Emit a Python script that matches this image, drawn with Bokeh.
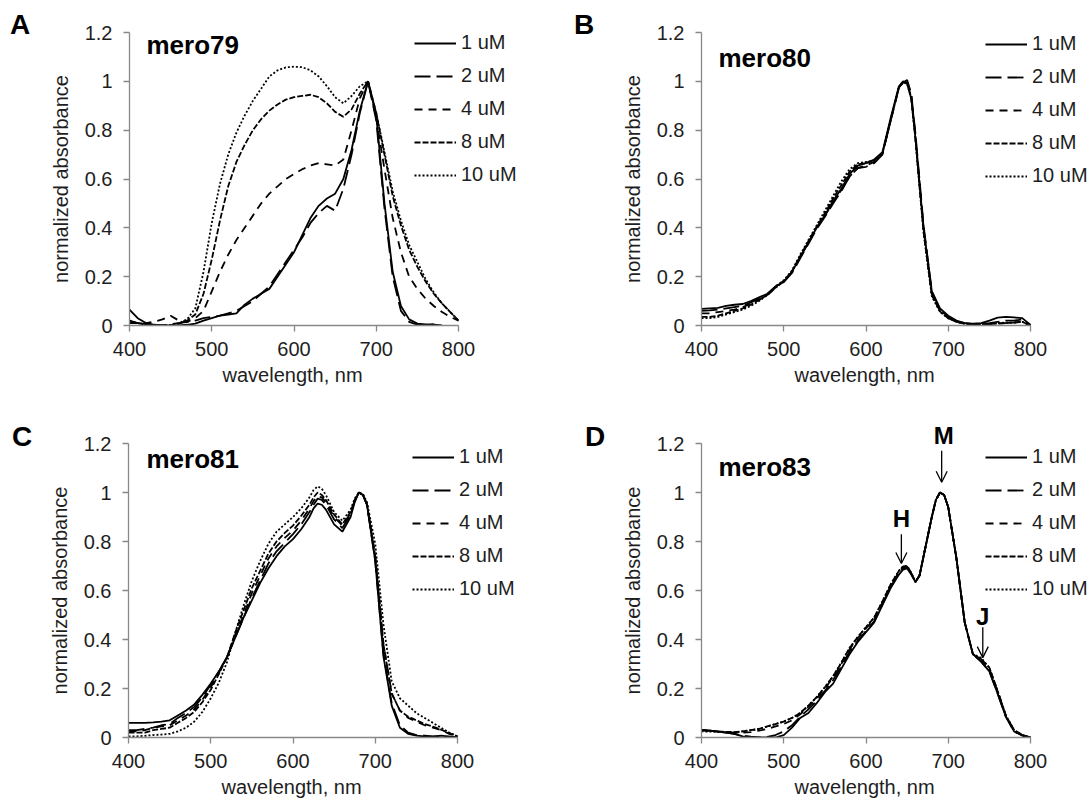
from bokeh.plotting import figure
from bokeh.models import Range1d, FixedTicker, Legend, LegendItem, Label, Arrow, OpenHead, Title, Div
from bokeh.layouts import column, row
from bokeh.embed import file_html
from bokeh.resources import INLINE

nan = float("nan")

concentrations = ["1 uM", "2 uM", "4 uM", "8 uM", "10 uM"]
x_ticks = [400, 500, 600, 700, 800]
y_ticks = [0, 0.2, 0.4, 0.6, 0.8, 1.0, 1.2]
y_tick_labels = ["0", "0.2", "0.4", "0.6", "0.8", "1", "1.2"]
x_label = "wavelength, nm"
y_label = "normalized absorbance"
panel_letters = ["A", "B", "C", "D"]
panel_titles = ["mero79", "mero80", "mero81", "mero83"]

# ---- mero79 ----
wl_79 = [400, 410, 420, 430, 440, 450, 460, 470, 480, 490, 500, 510, 520, 530, 540, 550, 560, 570, 580, 590,
         600, 610, 620, 630, 640, 650, 660, 670, 680, 690, 700, 710, 720, 730, 740, 750, 760, 770, 780, 790, 800]
m79_1 = [.065, .03, .01, .003, 0, 0, 0, .003, .008, .02, .03, .04, .045, .05, .085, .11, .13, .15, .2, .25,
         .3, .37, .44, .49, .52, .54, .6, .72, .88, 1.0, .86, .5, .22, .08, .025, .008, .005, .004, 0, nan, nan]
m79_2 = [.02, .01, .005, .002, 0, .005, .01, .015, .02, .03, .035, .04, .05, .06, .08, .1, .13, .16, .21, .26,
         .31, .36, .42, .46, .49, .47, .56, .7, .87, 1.0, .84, .48, .2, .06, .015, .003, 0, .005, nan, nan, nan]
m79_4 = [.01, .01, .01, .015, .025, .04, .02, .015, .03, .06, .14, .22, .29, .35, .4, .45, .5, .54, .57, .6,
         .62, .64, .655, .665, .66, .655, .68, .8, .93, 1.0, .85, .64, .44, .3, .2, .15, .11, .08, .055, .035, .02]
m79_8 = [.015, .01, .005, .002, 0, .002, .008, .02, .045, .13, .27, .43, .57, .67, .74, .8, .845, .88, .905, .925,
         .935, .94, .945, .935, .91, .875, .855, .885, .95, 1.0, .87, .7, .53, .41, .31, .24, .18, .13, .09, .055, .02]
m79_10 = [.02, .01, .005, .002, 0, .002, .01, .025, .07, .22, .42, .58, .7, .79, .86, .92, .97, 1.02, 1.045, 1.057,
          1.06, 1.058, 1.045, 1.02, .98, .935, .91, .94, .98, 1.0, .87, .71, .55, .43, .33, .26, .19, .135, .09, .055, .02]

# ---- mero80 ----
wl_80 = [400, 410, 420, 430, 440, 450, 460, 470, 480, 490, 500, 510, 520, 530, 540, 550, 560, 570, 580, 590,
         600, 610, 620, 630, 640, 645, 650, 655, 660, 665, 670, 680, 690, 700, 710, 720, 730, 740, 750, 760,
         770, 780, 790, 800]
m80_1 = [.068, .07, .072, .08, .085, .088, .1, .115, .13, .16, .18, .22, .28, .34, .4, .45, .51, .56, .62, .655,
         .665, .68, .71, .85, .98, 1.0, .99, .93, .77, .58, .4, .14, .07, .04, .02, .01, .008, .01, .02, .032,
         .035, .033, .03, .002]
m80_2 = [.06, .062, .065, .07, .075, .08, .095, .11, .125, .155, .178, .215, .275, .335, .395, .445, .5, .55, .61, .645,
         .65, .665, .7, .84, .975, .995, 1.005, .95, .79, .6, .41, .14, .065, .035, .018, .01, .006, .006, .01, .015,
         .02, .02, .025, .002]
m80_4 = [.05, .05, .055, .06, .065, .075, .09, .105, .125, .155, .18, .22, .28, .34, .4, .45, .505, .555, .61, .645,
         .655, .67, .705, .84, .975, .995, 1.0, .945, .78, .59, .4, .13, .06, .03, .015, .008, .005, .005, .006, .008,
         .01, .012, .015, 0]
m80_8 = [.035, .035, .04, .05, .06, .07, .085, .105, .125, .16, .182, .222, .285, .345, .405, .46, .52, .575, .63, .66,
         .665, .675, .705, .84, .975, .995, .995, .935, .77, .575, .385, .125, .058, .03, .015, .008, .005, .005, .006, .008,
         .01, .012, .015, 0]
m80_10 = [.03, .03, .035, .045, .055, .065, .08, .1, .125, .16, .185, .225, .29, .35, .41, .47, .53, .59, .64, .665,
          .67, .675, .705, .84, .975, .995, .99, .93, .77, .57, .38, .12, .055, .03, .015, .008, .005, .005, .008, .01,
          .012, .012, .015, 0]

# ---- mero81 ----
wl_81 = [400, 410, 420, 430, 440, 450, 460, 470, 480, 490, 500, 510, 520, 530, 540, 550, 560, 570, 580, 590,
         600, 610, 620, 625, 630, 635, 640, 650, 660, 670, 675, 680, 685, 690, 700, 710, 720, 730, 740, 750,
         760, 770, 780, 790, 800]
m81_1 = [.06, .06, .06, .062, .065, .07, .09, .11, .135, .175, .22, .27, .33, .41, .49, .56, .63, .69, .74, .78,
         .81, .85, .9, .935, .955, .95, .93, .87, .84, .9, .96, 1.0, .99, .95, .72, .33, .13, .04, .015, .008,
         .005, .003, .008, .004, 0]
m81_2 = [.03, .03, .035, .04, .05, .055, .08, .1, .125, .165, .215, .27, .33, .41, .49, .57, .64, .71, .76, .795,
         .83, .87, .92, .95, .975, .97, .95, .89, .855, .91, .965, 1.0, .99, .95, .72, .34, .14, .05, .02, .01,
         .008, .005, .004, .003, 0]
m81_4 = [.025, .025, .03, .04, .045, .05, .07, .09, .115, .155, .205, .265, .33, .42, .5, .59, .66, .73, .78, .815,
         .845, .885, .935, .965, .985, .98, .96, .9, .865, .915, .965, 1.0, .99, .95, .74, .38, .18, .11, .08, .065,
         .05, .04, .03, .015, .003]
m81_8 = [.02, .02, .02, .03, .035, .04, .06, .08, .105, .145, .195, .26, .33, .43, .52, .61, .68, .75, .8, .835,
         .865, .905, .95, .98, 1.0, .99, .97, .91, .87, .92, .97, 1.0, .99, .95, .74, .38, .18, .11, .085, .07,
         .055, .045, .032, .018, .004]
m81_10 = [.005, .005, .007, .01, .012, .015, .025, .04, .065, .105, .16, .225, .31, .43, .54, .64, .72, .79, .84, .87,
          .9, .935, .98, 1.01, 1.025, 1.015, .99, .92, .885, .93, .975, 1.0, .995, .96, .79, .46, .23, .16, .13, .1,
          .08, .06, .04, .02, .005]

# ---- mero83 ----
wl_83 = [400, 410, 420, 430, 440, 450, 460, 470, 480, 490, 500, 510, 520, 530, 540, 550, 560, 570, 580, 590,
         600, 610, 620, 630, 640, 645, 650, 655, 660, 665, 670, 680, 685, 690, 695, 700, 710, 720, 730, 740,
         750, 760, 770, 780, 790, 800]
m83_1 = [.03, .028, .025, .02, .015, .005, 0, 0, 0, 0, .01, .04, .08, .1, .14, .185, .22, .28, .34, .39,
         .43, .47, .54, .61, .665, .685, .69, .665, .635, .66, .74, .9, .97, 1.0, .99, .94, .73, .47, .34, .31,
         .27, .18, .085, .025, .008, 0]
m83_2 = [.03, .028, .024, .02, .015, .008, .003, 0, .003, .01, .025, .05, .085, .115, .15, .19, .235, .29, .35, .395,
         .435, .475, .545, .615, .67, .69, .695, .67, .635, .66, .74, .9, .97, 1.0, .99, .94, .73, .47, .34, .31,
         .27, .18, .085, .025, .008, 0]
m83_4 = [.03, .027, .024, .022, .02, .02, .022, .028, .035, .045, .055, .07, .095, .125, .16, .2, .245, .3, .36, .405,
         .445, .485, .55, .62, .675, .695, .698, .67, .635, .66, .74, .9, .97, 1.0, .99, .94, .73, .47, .34, .32,
         .28, .19, .09, .03, .01, 0]
m83_8 = [.03, .028, .025, .023, .022, .025, .03, .035, .045, .055, .065, .08, .1, .13, .165, .205, .25, .305, .365, .41,
         .45, .49, .555, .625, .68, .698, .7, .672, .635, .66, .74, .9, .97, 1.0, .99, .94, .73, .47, .34, .32,
         .285, .19, .09, .03, .01, 0]
m83_10 = [.025, .024, .022, .021, .02, .025, .03, .035, .045, .055, .065, .08, .1, .13, .165, .205, .25, .305, .365, .41,
          .45, .49, .555, .625, .68, .698, .7, .672, .635, .66, .74, .9, .97, 1.0, .99, .94, .73, .47, .34, .325,
          .285, .19, .09, .03, .01, 0]

# peak annotations in panel D (H and J inside the plot, M just above it)
peak_labels = ["H", "M", "J"]
peak_wl = [643, 692, 742]
peak_label_y = [0.892, 1.2, 0.495]
peak_arrow_from = [0.83, 1.17, 0.45]
peak_arrow_to = [0.71, 1.042, 0.326]

FONT = "Liberation Sans"
AXIS_GRAY = "#888888"
TEXT_COLOR = "#1e1e1e"
dashes = ["solid", "16 6", "8 6", "6 2", "2 2"]
PX_PER_NM = 329 / 400.0


def make_panel(wl, series, width, height, left, top, bottom, legend_loc, title, title_pos):
    frame_w = width - left
    x_end = 400 + frame_w / PX_PER_NM
    p = figure(width=width, height=height, x_range=Range1d(400, x_end), y_range=Range1d(0, 1.2),
               output_backend="svg", toolbar_location=None, tools="", title=None,
               min_border_left=left, min_border_right=0, min_border_top=top, min_border_bottom=bottom)
    p.outline_line_color = None
    p.xgrid.visible = False
    p.ygrid.visible = False
    p.background_fill_color = "white"
    p.border_fill_color = "white"

    for ax in (p.xaxis[0], p.yaxis[0]):
        ax.axis_line_color = AXIS_GRAY
        ax.axis_line_width = 1.3
        ax.major_tick_line_color = AXIS_GRAY
        ax.major_tick_line_width = 1.3
        ax.minor_tick_line_color = None
        ax.major_tick_in = 0
        ax.major_tick_out = 6
        ax.major_label_text_font = FONT
        ax.major_label_text_font_size = "20px"
        ax.major_label_text_color = TEXT_COLOR
        ax.axis_label_text_font = FONT
        ax.axis_label_text_font_size = "20px"
        ax.axis_label_text_font_style = "normal"
        ax.axis_label_text_color = TEXT_COLOR

    p.xaxis.bounds = (400, 800)
    p.xaxis.ticker = FixedTicker(ticks=x_ticks)
    p.yaxis.ticker = FixedTicker(ticks=y_ticks)
    p.yaxis.major_label_overrides = {float(t): s for t, s in zip(y_ticks, y_tick_labels)}
    p.yaxis.axis_label = y_label
    p.xaxis.major_label_standoff = 10
    p.yaxis.major_label_standoff = 11
    p.yaxis.axis_label_standoff = 10

    p.add_layout(Title(text=x_label, align="left", offset=93, vertical_align="bottom", standoff=6,
                       text_font=FONT, text_font_size="20px", text_font_style="normal",
                       text_color=TEXT_COLOR), "below")

    items = []
    for lab, ys, dash in zip(concentrations, series, dashes):
        r = p.line(wl, ys, line_color="black", line_width=1.8, line_dash=dash)
        items.append(LegendItem(label=lab, renderers=[r]))
    legend = Legend(items=items, location=legend_loc, orientation="vertical",
                    glyph_width=42, glyph_height=22, label_height=22, label_standoff=5, spacing=10,
                    padding=0, margin=0, border_line_color=None, background_fill_alpha=0,
                    label_text_font=FONT, label_text_font_size="20px", label_text_color=TEXT_COLOR)
    p.add_layout(legend)

    p.add_layout(Label(x=title_pos[0], y=title_pos[1], x_units="screen", y_units="screen", text=title,
                       text_baseline="middle", text_font=FONT, text_font_size="26px",
                       text_font_style="bold", text_color="black"))
    return p


def letter_div(letter, width, height, pad_left, pad_top):
    html = ('<div style="padding-left:%dpx; padding-top:%dpx; font-family:\'Liberation Sans\', Arial, sans-serif; '
            'font-size:28px; font-weight:bold; line-height:28px; color:black;">%s</div>' % (pad_left, pad_top, letter))
    return Div(text=html, width=width, height=height, margin=0)


pA = make_panel(wl_79, [m79_1, m79_2, m79_4, m79_8, m79_10], 530, 400, 89, 30, 75, (285, 139),
                panel_titles[0], (17, 281))
pB = make_panel(wl_80, [m80_1, m80_2, m80_4, m80_8, m80_10], 491, 400, 101, 32, 74, (284, 138),
                panel_titles[1], (17, 268))
pC = make_panel(wl_81, [m81_1, m81_2, m81_4, m81_8, m81_10], 535, 402, 88, 43, 65, (284, 137),
                panel_titles[2], (18, 279))
pD = make_panel(wl_83, [m83_1, m83_2, m83_4, m83_8, m83_10], 481, 402, 91, 43, 65, (284, 137),
                panel_titles[3], (17, 271))

for lab, xw, ly, a0, a1 in zip(peak_labels, peak_wl, peak_label_y, peak_arrow_from, peak_arrow_to):
    if ly < 1.2:
        pD.add_layout(Label(x=xw, y=ly, text=lab, text_align="center", text_baseline="middle",
                            text_font=FONT, text_font_size="24px", text_font_style="bold", text_color="black"))
    else:
        # label sitting right on top of the plot area: drawn in the panel above it
        pD.add_layout(Title(text=lab, align="left", offset=(xw - 400) * PX_PER_NM - 8, vertical_align="bottom",
                            standoff=-10, text_font=FONT, text_font_size="24px", text_font_style="bold",
                            text_color="black"), "above")
    pD.add_layout(Arrow(x_start=xw, y_start=a0, x_end=xw, y_end=a1, line_color="black", line_width=1.3,
                        end=OpenHead(size=11, line_color="black", line_width=1.3)))

top_row = row(letter_div(panel_letters[0], 40, 400, 10, 11), pA,
              letter_div(panel_letters[1], 30, 400, 4, 11), pB)
bottom_row = row(letter_div(panel_letters[2], 40, 402, 12, 23), pC,
                 letter_div(panel_letters[3], 35, 402, 10, 23), pD)
layout = column(top_row, bottom_row)

with open("out.html", "w") as f:
    f.write(file_html(layout, INLINE))
